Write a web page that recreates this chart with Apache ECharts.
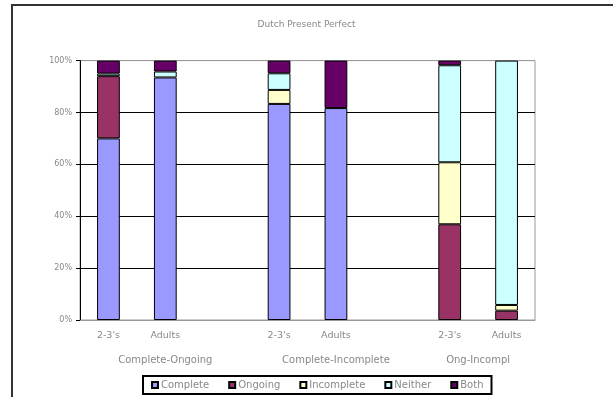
<!DOCTYPE html>
<html>
<head>
<meta charset="utf-8">
<script src="https://cdn.jsdelivr.net/npm/echarts@6/dist/echarts.min.js"></script>
<style>
  html, body { margin: 0; padding: 0; background: #fff; }
  #main { width: 613px; height: 397px; }
</style>
</head>
<body>
<div id="main"></div>
<script>
// categories: 3 groups of 2 bars, blank slot between groups
const categories = ["2-3's", 'Adults', '', "2-3's", 'Adults', '', "2-3's", 'Adults']
const groups = ['Complete-Ongoing', 'Complete-Incomplete', 'Ong-Incompl']
const groupCenters = [1.5, 4.5, 7]   // in category slots

// percentages, null = nothing drawn
const complete   = [70,   93.5, null, 83.3, 81.7, null, null, null]
const ongoing    = [24,   null, null, null, null, null, 36.9, 3.6]
const incomplete = [null, null, null, 5.4,  null, null, 23.9, 2.2]
const neither    = [1,    2.3,  null, 6.4,  null, null, 37.4, 94.2]
const both       = [5,    4.2,  null, 4.9,  18.3, null, 1.8,  null]

const yTicks = [0, 20, 40, 60, 80, 100]

const textColor = '#888'
const font = 'DejaVu Sans'

function bar(name, data, color) {
    return {
        name: name,
        type: 'bar',
        stack: 'all',
        barWidth: '40%',
        data: data,
        itemStyle: { color: color, borderColor: '#000', borderWidth: 1 }
    }
}

const chart = echarts.init(document.getElementById('main'))
chart.setOption({
    animation: false,
    title: {
        text: 'Dutch Present Perfect',
        left: 'center',
        top: 15,
        textStyle: { fontSize: 9, fontWeight: 'normal', color: textColor, fontFamily: font }
    },
    graphic: [{
        type: 'rect',
        shape: { x: 12, y: 5, width: 700, height: 500 },
        style: { fill: 'none', stroke: '#333', lineWidth: 2 }
    }],
    legend: {
        bottom: 3,
        left: 143,
        icon: 'rect',
        itemWidth: 6,
        itemHeight: 6,
        itemGap: 19,
        padding: [4, 8],
        borderColor: '#000',
        borderWidth: 2,
        textStyle: { fontSize: 10, color: textColor, fontFamily: font, padding: [0, 0, 3, -2] }
    },
    grid: {
        left: 80, right: 78, top: 60.6, bottom: 77,
        show: true, borderColor: '#999', borderWidth: 1,
        outerBoundsMode: 'none'
    },
    xAxis: [{
        type: 'category',
        data: categories,
        axisLine: { lineStyle: { color: '#999' } },
        axisTick: { show: false },
        axisLabel: { interval: 0, margin: 11, fontSize: 9.5, color: textColor, fontFamily: font }
    }, {
        type: 'value',
        min: 0, max: 8, interval: 0.5,
        position: 'bottom',
        axisLine: { show: false },
        axisTick: { show: false },
        splitLine: { show: false },
        axisLabel: {
            margin: 35, fontSize: 10, color: textColor, fontFamily: font,
            formatter: v => {
                const i = groupCenters.indexOf(v)
                return i >= 0 ? groups[i] : ''
            }
        }
    }],
    yAxis: {
        type: 'value',
        min: yTicks[0], max: yTicks[yTicks.length - 1], interval: 20,
        axisLine: { show: true, lineStyle: { color: '#000' } },
        axisTick: { show: true, length: 4, lineStyle: { color: '#000' } },
        splitLine: { lineStyle: { color: ['#999', '#000', '#000', '#000', '#000', '#999'] } },
        axisLabel: { margin: 8, fontSize: 8, color: textColor, fontFamily: font, formatter: '{value}%' }
    },
    series: [
        bar('Complete', complete, '#9999FF'),
        bar('Ongoing', ongoing, '#993366'),
        bar('Incomplete', incomplete, '#FFFFCC'),
        bar('Neither', neither, '#CCFFFF'),
        bar('Both', both, '#660066')
    ]
})
</script>
</body>
</html>
